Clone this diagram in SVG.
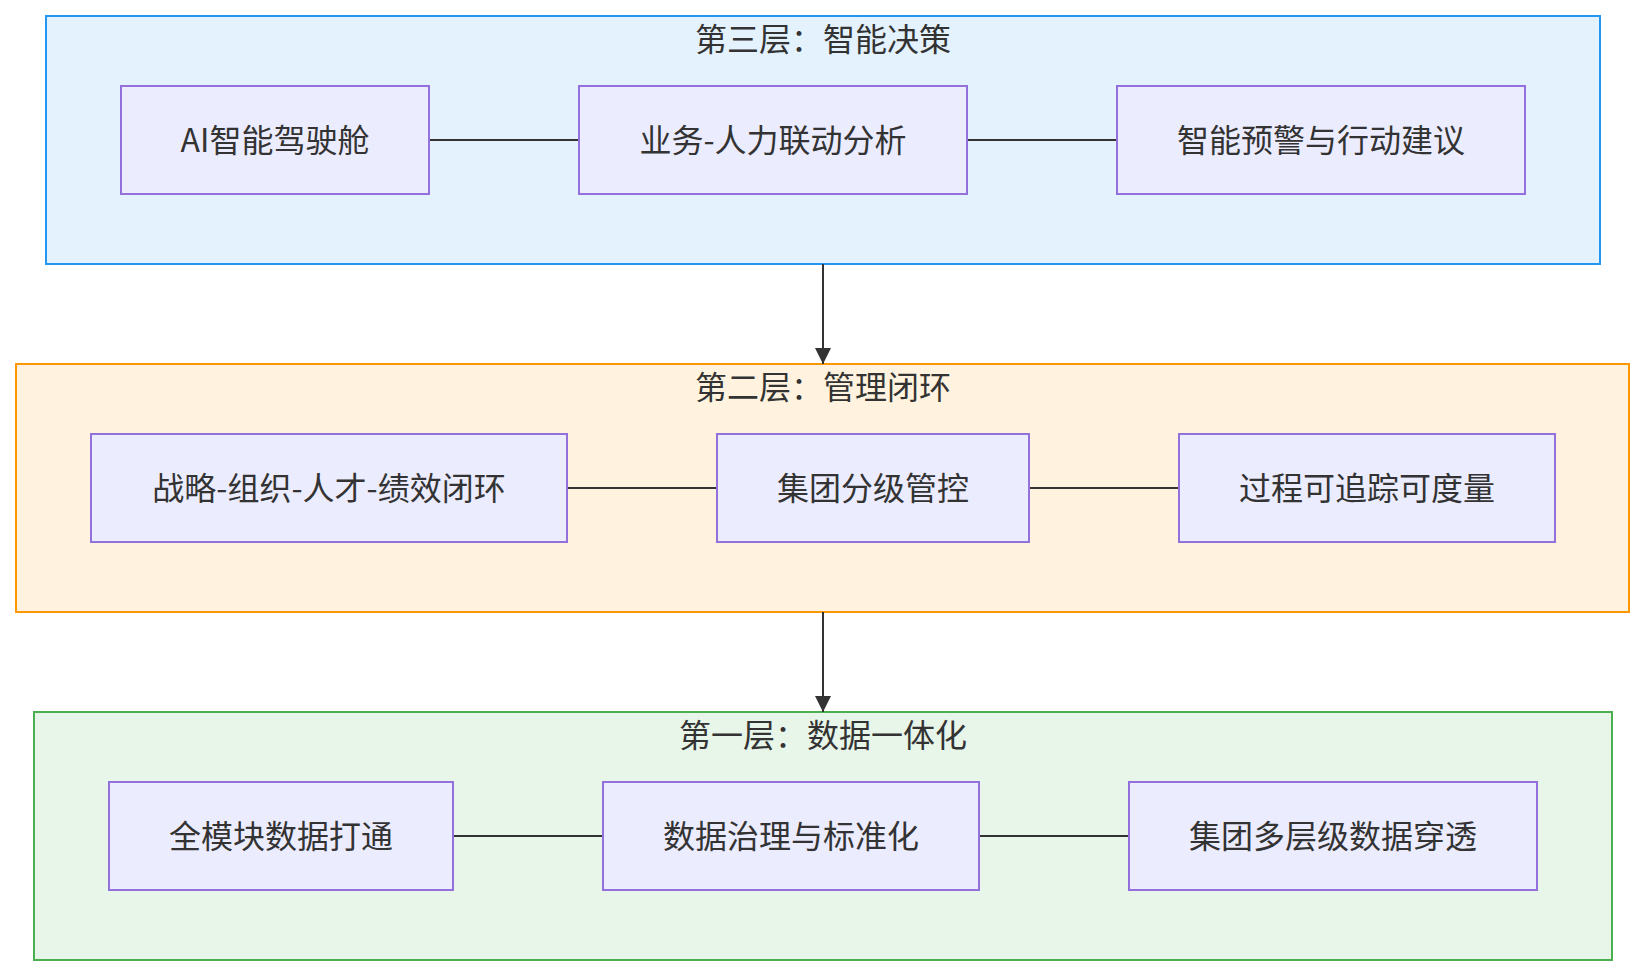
<svg xmlns="http://www.w3.org/2000/svg" width="1645" height="976" viewBox="0 0 1645 976">
<defs>
<style>
.bg{fill:#ffffff}
.cl{stroke-width:2}
.c3{fill:#e3f2fd;stroke:#2196f3}
.c2{fill:#fff3e0;stroke:#ff9800}
.c1{fill:#e8f5e9;stroke:#4caf50}
.node rect{fill:#ececff;stroke:#9370db;stroke-width:2}
text{font-family:"Noto Sans CJK SC","Noto Sans",sans-serif;font-size:32px;fill:#333333;text-anchor:middle;dominant-baseline:central}
.edge{stroke:#333333;stroke-width:2;fill:none}
</style>
<marker id="arrow" viewBox="0 0 16 16" refX="16" refY="8" markerWidth="16" markerHeight="16" markerUnits="userSpaceOnUse" orient="auto">
<path d="M0,0 L16,8 L0,16 Z" fill="#333333"/>
</marker>
</defs>
<rect class="bg" x="0" y="0" width="1645" height="976"/>

<g id="layer3">
<rect class="cl c3" x="46" y="16" width="1554" height="248"/>
<text x="823" y="37">第三层：智能决策</text>
</g>
<g id="layer2">
<rect class="cl c2" x="16" y="364" width="1613" height="248"/>
<text x="823" y="385">第二层：管理闭环</text>
</g>
<g id="layer1">
<rect class="cl c1" x="34" y="712" width="1578" height="248"/>
<text x="823" y="733">第一层：数据一体化</text>
</g>

<g id="connectors">
<line class="edge" x1="429" y1="140" x2="579" y2="140"/>
<line class="edge" x1="967" y1="140" x2="1117" y2="140"/>
<line class="edge" x1="567" y1="488" x2="717" y2="488"/>
<line class="edge" x1="1029" y1="488" x2="1179" y2="488"/>
<line class="edge" x1="453" y1="836" x2="603" y2="836"/>
<line class="edge" x1="979" y1="836" x2="1129" y2="836"/>
<line class="edge" x1="823" y1="264" x2="823" y2="364" marker-end="url(#arrow)"/>
<line class="edge" x1="823" y1="612" x2="823" y2="712" marker-end="url(#arrow)"/>
</g>

<g id="n_ai" class="node"><rect x="121" y="86" width="308" height="108"/><text x="275" y="138">AI智能驾驶舱</text></g>
<g id="n_biz" class="node"><rect x="579" y="86" width="388" height="108"/><text x="773" y="138">业务-人力联动分析</text></g>
<g id="n_warn" class="node"><rect x="1117" y="86" width="408" height="108"/><text x="1321" y="138">智能预警与行动建议</text></g>

<g id="n_loop" class="node"><rect x="91" y="434" width="476" height="108"/><text x="329" y="486">战略-组织-人才-绩效闭环</text></g>
<g id="n_group" class="node"><rect x="717" y="434" width="312" height="108"/><text x="873" y="486">集团分级管控</text></g>
<g id="n_trace" class="node"><rect x="1179" y="434" width="376" height="108"/><text x="1367" y="486">过程可追踪可度量</text></g>

<g id="n_all" class="node"><rect x="109" y="782" width="344" height="108"/><text x="281" y="834">全模块数据打通</text></g>
<g id="n_gov" class="node"><rect x="603" y="782" width="376" height="108"/><text x="791" y="834">数据治理与标准化</text></g>
<g id="n_multi" class="node"><rect x="1129" y="782" width="408" height="108"/><text x="1333" y="834">集团多层级数据穿透</text></g>
</svg>
